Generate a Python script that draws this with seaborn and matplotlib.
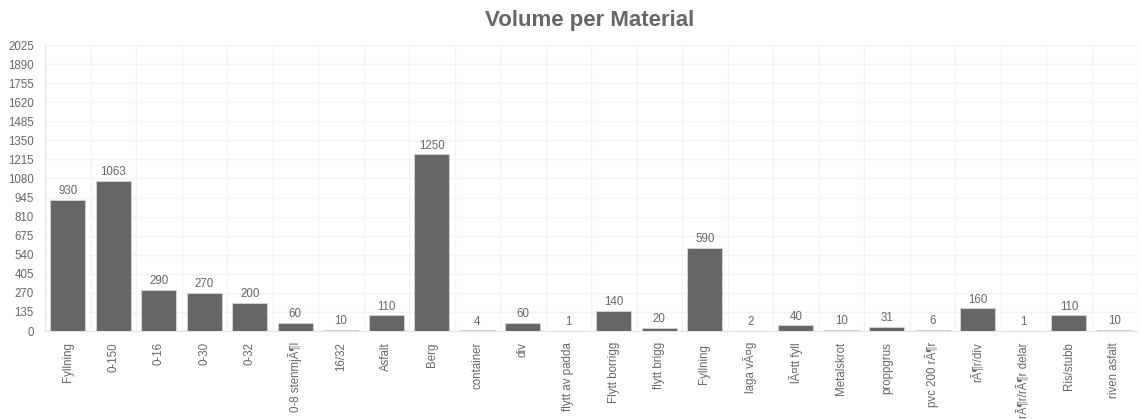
import matplotlib
matplotlib.use("Agg")
import matplotlib.pyplot as plt
import seaborn as sns
import pandas as pd

materials = [
    "Fyllning", "0-150", "0-16", "0-30", "0-32", "0-8 stenmjÃ¶l", "16/32",
    "Asfalt", "Berg", "container", "div", "flytt av padda", "Flytt borrigg",
    "flytt brigg", "Fyllning ", "laga vÃ¤g", "lÃ¤tt fyll", "Metalskrot",
    "proppgrus", "pvc 200 rÃ¶r", "rÃ¶r/div", "rÃ¶r/rÃ¶r delar", "Ris/stubb",
    "riven asfalt",
]
volumes = [930, 1063, 290, 270, 200, 60, 10, 110, 1250, 4, 60, 1, 140, 20,
           590, 2, 40, 10, 31, 6, 160, 1, 110, 10]
y_ticks = list(range(0, 2026, 135))

sns.set_theme(style="white")
plt.rcParams["font.family"] = ["Liberation Sans", "DejaVu Sans"]

text_gray = "#666666"
grid_gray = "#f3f3f3"

df = pd.DataFrame({"material": materials, "volume": volumes})

fig = plt.figure(figsize=(11.4, 4.19), dpi=100)
ax = fig.add_axes([0.0395, 0.21, 0.958, 0.6826])

sns.barplot(data=df, x="material", y="volume", ax=ax, color="#666666",
            saturation=1, width=0.77, edgecolor="#cfcfcf", linewidth=0.75,
            zorder=3)

ax.set_ylim(0, 2025)
ax.set_xlim(-0.5, len(materials) - 0.5)
ax.set_yticks(y_ticks)
ax.set_yticklabels([str(t) for t in y_ticks])

# gridlines between categories and at every y tick
ax.set_xticks([i + 0.5 for i in range(-1, len(materials))], minor=True)
ax.grid(axis="y", which="major", color=grid_gray, linewidth=1, zorder=0)
ax.grid(axis="x", which="minor", color=grid_gray, linewidth=1, zorder=0)
ax.tick_params(axis="x", which="minor", length=5, color="#ebebeb", width=1)
ax.tick_params(axis="x", which="major", length=0, labelrotation=90,
               labelsize=8.3, labelcolor=text_gray, pad=8)
ax.tick_params(axis="y", length=5, color="#ebebeb", width=1,
               labelsize=8.3, labelcolor=text_gray, pad=3)

for side in ["top", "right"]:
    ax.spines[side].set_visible(False)
for side in ["left", "bottom"]:
    ax.spines[side].set_color("#e6e6e6")
    ax.spines[side].set_linewidth(1)
    ax.spines[side].set_zorder(2)

ax.set_xlabel("")
ax.set_ylabel("")

for i, v in enumerate(volumes):
    ax.annotate(str(v), (i, v), xytext=(0, 2), textcoords="offset points",
                ha="center", va="bottom", fontsize=8.3, color=text_gray)

fig.text(0.517, 0.952, "Volume per Material", ha="center", va="center",
         fontsize=16, fontweight="bold", color=text_gray)

fig.savefig("out.png", dpi=100, facecolor="white")
